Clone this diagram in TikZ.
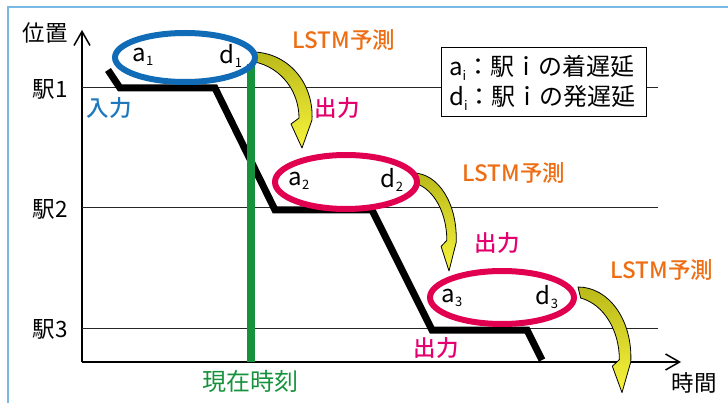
\documentclass[tikz,border=0pt]{standalone}
\usepackage{fontspec}
\setmainfont{Noto Sans CJK JP}
\newfontfamily\medfont{Noto Sans CJK JP Medium}
\usetikzlibrary{arrows.meta,shapes.geometric}
\definecolor{frameblue}{RGB}{120,185,228}
\definecolor{ellblue}{RGB}{16,108,182}
\definecolor{inblue}{RGB}{30,120,190}
\definecolor{ellred}{RGB}{225,0,80}
\definecolor{outpink}{RGB}{228,0,110}
\definecolor{lstmorange}{RGB}{237,110,20}
\definecolor{nowgreen}{RGB}{22,146,60}
\definecolor{arrtop}{RGB}{185,185,25}
\definecolor{arrbot}{RGB}{248,244,60}
\newcommand{\sbx}[1]{\raisebox{-0.35ex}{\fontsize{13}{13}\selectfont #1}}
\newcommand{\yarrow}[4]{%
  \begin{scope}[shift={(#1,#2)},xscale=#3,yscale=#4]
    \path[draw=black,line width=0.8pt,line join=round,top color=arrtop,bottom color=arrbot]
      (0,0) .. controls (35,0) and (62,30) .. (60,68)
      -- (50,96) -- (39,72) -- (47,66)
      .. controls (47,40) and (30,16) .. (3,10) -- cycle;
  \end{scope}}
\tikzset{
  lbl/.style={font=\fontsize{22.5}{22.5}\selectfont,inner sep=0pt},
  clbl/.style={font=\medfont\fontsize{22.5}{22.5}\selectfont,inner sep=0pt},
  stationline/.style={line width=1pt,black!85},
  axis/.style={line width=1.8pt,-{Straight Barb[length=14pt,width=16pt,line width=1.5pt]}},
  ringblue/.style={ellipse,draw=ellblue,line width=6pt,inner sep=0pt},
  ringred/.style={ellipse,draw=ellred,line width=6pt,inner sep=0pt},
  lstm/.style={clbl,text=lstmorange},
  outp/.style={clbl,text=outpink},
  var/.style={font=\fontsize{24}{24}\selectfont,inner sep=0pt},
}
\begin{document}
\begin{tikzpicture}[x=1pt,y=-1pt]
\useasboundingbox (0,0) rectangle (728,403);
% frame
\draw[frameblue,line width=1.5pt] (8,403) -- (8,7) -- (728,7);
% axes
\coordinate (origin) at (82,362);
\coordinate (ytop) at (82,30);
\coordinate (xend) at (681,362);
\draw[axis] (origin) -- (ytop);
\draw[axis] (origin) -- (xend);
% station lines
\coordinate (s1a) at (82,88); \coordinate (s1b) at (658,88);
\coordinate (s2a) at (82,208); \coordinate (s2b) at (658,208);
\coordinate (s3a) at (82,328); \coordinate (s3b) at (658,328);
\draw[stationline] (s1a) -- (s1b);
\draw[stationline] (s2a) -- (s2b);
\draw[stationline] (s3a) -- (s3b);
% labels
\node[lbl] (pos) at (45,33) {位置};
\node[lbl] (st1) at (50,89) {駅1};
\node[lbl] (st2) at (50,209) {駅2};
\node[lbl] (st3) at (50,329) {駅3};
\node[lbl] (time) at (694,383) {時間};
% train path
\draw[line width=7pt,line join=miter] (108,70) -- (120,88) -- (215,88) -- (275,210) -- (372,210) -- (432,330) -- (527,330) -- (542,360);
% current time
\coordinate (g1) at (251,64);
\coordinate (g2) at (251,362);
\draw[nowgreen,line width=8.5pt] (g1) -- (g2);
\node[lbl,text=nowgreen,font=\fontsize{24}{24}\selectfont] (now) at (250,381) {現在時刻};
% yellow arrows
\yarrow{252}{52}{1}{1}
\yarrow{413}{173}{0.72}{1.02}
\yarrow{578}{287}{0.88}{1.1}
% ellipses
\node[ringblue,minimum width=140pt,minimum height=49pt] (e1) at (185,57.5) {};
\node[ringred,minimum width=142pt,minimum height=54pt] (e2) at (346,182) {};
\node[ringred,minimum width=144pt,minimum height=53pt] (e3) at (502,297.5) {};
\node[var] (a1) at (143,57) {a\sbx{1}};
\node[var] (d1) at (231,56) {d\sbx{1}};
\node[var] (a2) at (299,181) {a\sbx{2}};
\node[var] (d2) at (392,180) {d\sbx{2}};
\node[var] (a3) at (452,298) {a\sbx{3}};
\node[var] (d3) at (547,297) {d\sbx{3}};
% texts
\node[clbl,text=inblue] (in) at (109,108) {入力};
\node[lstm] (l1) at (344,40) {LSTM予測};
\node[lstm] (l2) at (514,173) {LSTM予測};
\node[lstm] (l3) at (662,270) {LSTM予測};
\node[outp] (o1) at (337,108) {出力};
\node[outp] (o2) at (497,243) {出力};
\node[outp] (o3) at (436,348) {出力};
% legend
\node[draw=black,line width=1pt,fill=white,minimum width=205pt,minimum height=69pt,inner sep=0pt] (legend) at (543.5,82.5) {};
\node[var,anchor=west] (leg1) at (449,68) {a\sbx{i}：駅ｉの着遅延};
\node[var,anchor=west] (leg2) at (449,98) {d\sbx{i}：駅ｉの発遅延};
\end{tikzpicture}
\end{document}
